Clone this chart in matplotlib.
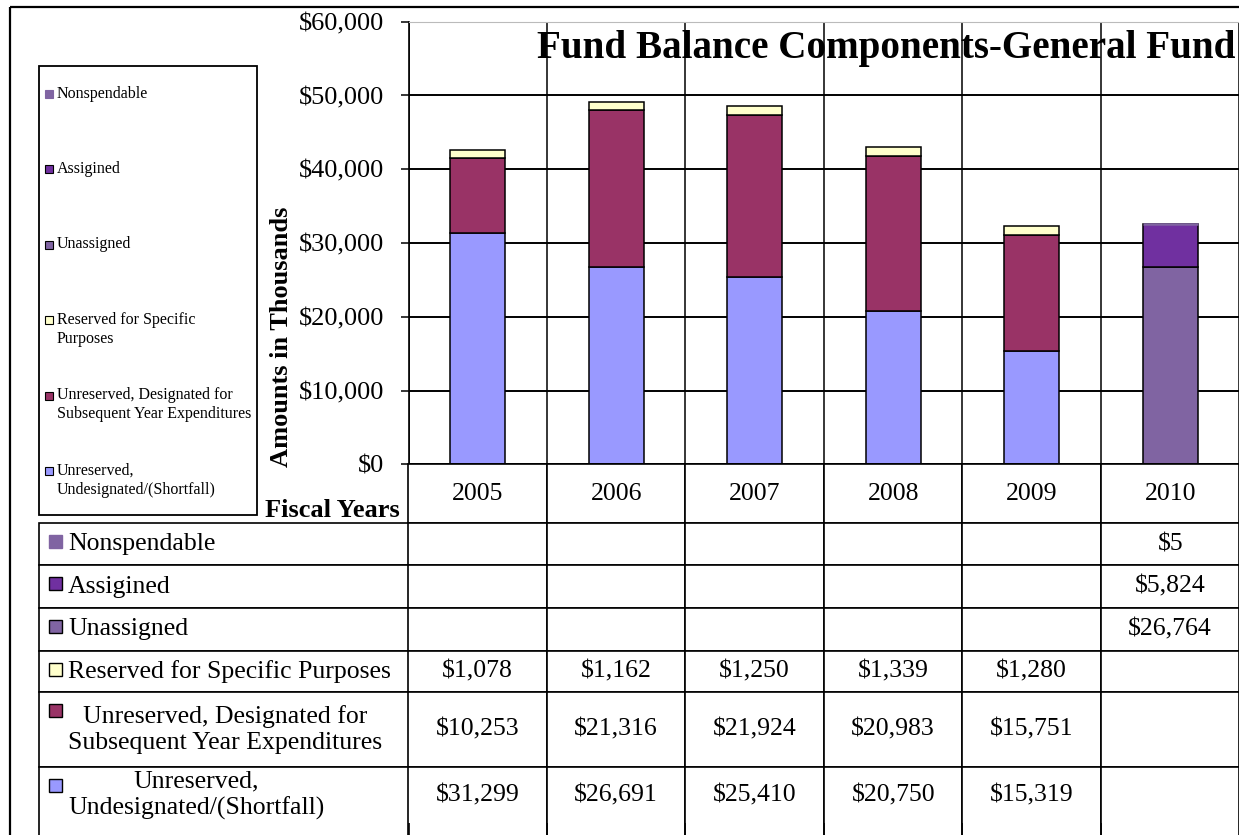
import numpy as np
import matplotlib
matplotlib.use('Agg')
import matplotlib.pyplot as plt
from matplotlib.patches import Rectangle
from matplotlib.table import Table
from matplotlib.ticker import FuncFormatter

plt.rcParams['font.family'] = ['Liberation Serif', 'DejaVu Serif']

W, H = 1239, 835

years = ['2005', '2006', '2007', '2008', '2009', '2010']

# series in stacking order (bottom first); None = no value that year
unres_undesig = [31299, 26691, 25410, 20750, 15319, None]
unres_desig = [10253, 21316, 21924, 20983, 15751, None]
reserved = [1078, 1162, 1250, 1339, 1280, None]
unassigned = [None, None, None, None, None, 26764]
assigned = [None, None, None, None, None, 5824]
nonspendable = [None, None, None, None, None, 5]

stack = [unres_undesig, unres_desig, reserved, unassigned, assigned, nonspendable]
legend_labels = ['Unreserved,\nUndesignated/(Shortfall)',
                 'Unreserved, Designated for\nSubsequent Year Expenditures',
                 'Reserved for Specific\nPurposes',
                 'Unassigned', 'Assigined', 'Nonspendable']
table_labels = ['Unreserved,\nUndesignated/(Shortfall)',
                'Unreserved, Designated for\nSubsequent Year Expenditures',
                'Reserved for Specific Purposes',
                'Unassigned', 'Assigined', 'Nonspendable']
colors = ['#9999FF', '#993366', '#FFFFCC', '#8064A2', '#7030A0', '#8064A2']
edges = ['black', 'black', 'black', 'black', 'black', '#8064A2']


def px_box(x0, y0, x1, y1):
    return [x0 / W, 1 - y1 / H, (x1 - x0) / W, (y1 - y0) / H]


fig = plt.figure(figsize=(W / 100, H / 100), dpi=100)

# background layer in pixel coordinates: frame, legend, captions
bg = fig.add_axes([0, 0, 1, 1], zorder=-1)
bg.set_xlim(0, W)
bg.set_ylim(H, 0)
bg.axis('off')
bg.add_patch(Rectangle((9.5, 7), W + 10, H + 10, fill=False, lw=1.6, ec='black'))

# legend (drawn by hand, top entry = last series)
bg.add_patch(Rectangle((39, 66), 218, 449, fill=False, lw=1.3, ec='black'))
for i, k in enumerate(range(len(stack) - 1, -1, -1)):
    yc = 94 + 75.4 * i
    bg.add_patch(Rectangle((45, yc - 4), 8, 8, fc=colors[k],
                           ec='black' if edges[k] == 'black' else colors[k], lw=0.8))
    bg.text(57, yc - 8.5, legend_labels[k], fontsize=11.5, va='top', ha='left',
            linespacing=1.25)

bg.text(400, 517, 'Fiscal Years', fontsize=19, fontweight='bold', ha='right', va='baseline')

# main chart
ax = fig.add_axes(px_box(408.5, 21.7, 1239.5, 464.3))
x = np.arange(len(years))
bottom = np.zeros(len(years))
for vals, c, e in zip(stack, colors, edges):
    v = np.array([np.nan if a is None else a for a in vals], float)
    m = ~np.isnan(v)
    ax.bar(x[m], v[m], 0.4, bottom=bottom[m], color=c, edgecolor=e,
           linewidth=1.1 if e == 'black' else 1.8, zorder=2)
    bottom[m] += v[m]

ax.set_xlim(-0.5, len(years) - 0.5)
ax.set_ylim(0, 60000)
ax.set_yticks(range(0, 60001, 10000))
ax.yaxis.set_major_formatter(FuncFormatter(lambda v, p: '${:,.0f}'.format(v)))
ax.set_xticks([])
ax.set_xticks(np.arange(-0.5, len(years)), minor=True)
ax.tick_params(axis='x', which='minor', length=0)
ax.tick_params(axis='y', labelsize=19, length=5.8, width=1.1, pad=12)
ax.set_axisbelow(True)
ax.grid(axis='y', which='major', color='black', lw=1.4)
ax.grid(axis='x', which='minor', color='black', lw=1.1)
ax.spines['top'].set_color('#bbbbbb')
ax.spines['right'].set_visible(False)
ax.spines['left'].set_linewidth(1.2)
ax.spines['bottom'].set_linewidth(2)

ax.set_ylabel('Amounts in Thousands', fontsize=19, fontweight='bold')
ax.yaxis.set_label_coords((282 - 408.5) / 831, (464.3 - 337) / 442.6)
ax.yaxis.label.set_verticalalignment('center')

title = ax.text((886 - 408.5) / 831, (464.3 - 58) / 442.6,
                'Fund Balance Components-General Fund', transform=ax.transAxes,
                ha='center', va='baseline', fontsize=28, fontweight='bold', zorder=0.1)

# data table under the chart
label_w, col_w = 369.5, 831 / len(years)
row_px = [58.7, 42, 43, 43, 41, 75, 56, 30]
tab_h = sum(row_px)
tax = fig.add_axes(px_box(408.5, 464.3, 1239.5, 464.3 + tab_h))
tax.axis('off')


def fmt(v):
    return '' if v is None else '${:,}'.format(v)


cell_text = [[fmt(v) for v in vals] for vals in stack[::-1]] + [[''] * len(years)]
row_labels = table_labels[::-1] + ['']
nrow = len(row_px)

tbl = Table(tax, bbox=[0, 0, 1, 1])
tbl.auto_set_font_size(False)
for j, yr in enumerate(years):
    tbl.add_cell(0, j, col_w / 831, row_px[0] / tab_h, text=yr, loc='center')
for i in range(1, nrow):
    lab = tbl.add_cell(i, -1, label_w / 831, row_px[i] / tab_h, text=row_labels[i - 1], loc='left')
    lab.PAD = 29 / label_w
    lab.get_text().set_multialignment('center')
    for j in range(len(years)):
        tbl.add_cell(i, j, col_w / 831, row_px[i] / tab_h, text=cell_text[i - 1][j], loc='center')
tbl.set_fontsize(18.5)
for (r, c), cell in tbl.get_celld().items():
    cell.set_linewidth(1.2)
    if r == nrow - 2:
        cell.visible_edges = 'LRT'
    elif r == nrow - 1:
        cell.visible_edges = 'LR'
tax.add_table(tbl)

# colour keys inside the row-label cells
top = row_px[0]
for i, k in enumerate(range(len(stack) - 1, -1, -1)):
    yt = top + 12
    tax.add_patch(Rectangle(((49 - 408.5) / 831, (tab_h - yt - 13) / tab_h), 13 / 831, 13 / tab_h,
                            transform=tax.transAxes, clip_on=False, fc=colors[k],
                            ec='black' if edges[k] == 'black' else colors[k], lw=1.0))
    top += row_px[i + 1]

fig.canvas.draw()
tw = title.get_window_extent().width
title.set_fontsize(28 * 700 / tw)

fig.savefig('out.png', dpi=100)
